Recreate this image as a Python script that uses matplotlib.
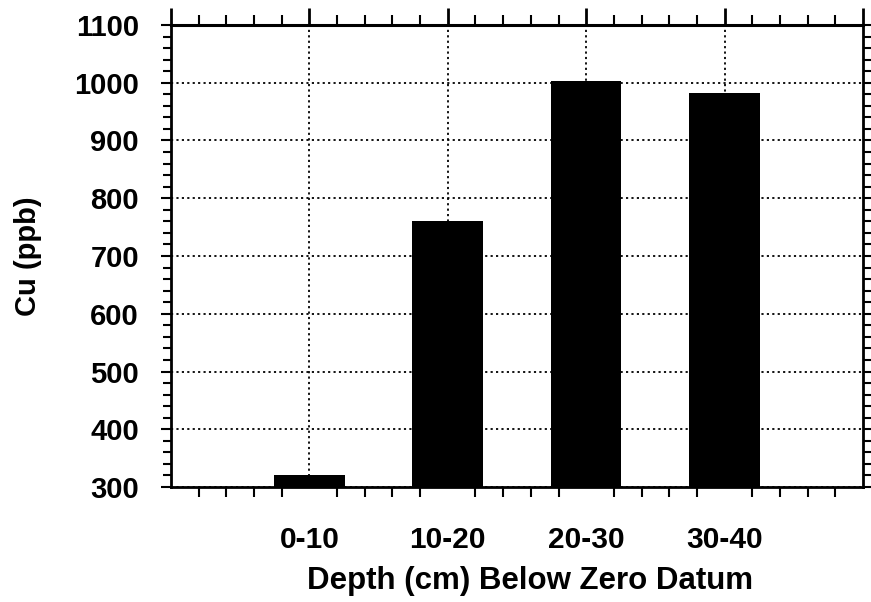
import numpy as np
import matplotlib
matplotlib.use("Agg")
import matplotlib.pyplot as plt
from matplotlib.ticker import MultipleLocator, FixedLocator, NullFormatter

plt.rcParams['font.family'] = ['Liberation Sans', 'DejaVu Sans']
plt.rcParams['font.weight'] = 'bold'

# Cu concentration by depth interval
depths = ['0-10', '10-20', '20-30', '30-40']
cu_ppb = [320, 760, 1003, 982]

fig = plt.figure(figsize=(8.71, 6.02), dpi=100)
ax = fig.add_axes([0.1963, 0.191, 0.7945, 0.7675])

x = np.arange(1, len(depths) + 1)
ax.bar(x, np.array(cu_ppb) - 300, width=0.51, bottom=300, color='black',
       zorder=3)

ax.set_xlim(0, 5)
ax.set_ylim(300, 1100)

# x axis: labels at category centres, small ticks in between
ax.set_xticks(x)
ax.set_xticklabels(depths)
minor_x = [v for v in np.round(np.arange(0.2, 5.0, 0.2), 1) if v % 1 != 0]
ax.xaxis.set_minor_locator(FixedLocator(minor_x))
ax.tick_params(axis='x', which='major', length=0, pad=28, labelsize=21.5)
ax.tick_params(axis='x', which='minor', direction='out', length=7.5,
               width=1.5, top=False, bottom=True)

# top edge gets its own longer ticks at the integer positions
top = ax.secondary_xaxis('top')
top.set_xticks(np.arange(0, 6))
top.xaxis.set_minor_locator(MultipleLocator(0.2))
top.xaxis.set_major_formatter(NullFormatter())
top.tick_params(which='major', direction='out', length=12.5, width=2)
top.tick_params(which='minor', direction='out', length=7.5, width=1.5)
top.spines['top'].set_linewidth(2.2)

# y axis ticks on both sides
ax.yaxis.set_major_locator(MultipleLocator(100))
ax.yaxis.set_minor_locator(MultipleLocator(20))
ax.tick_params(axis='y', which='both', direction='out', left=True,
               right=True, width=1.5)
ax.tick_params(axis='y', which='major', length=7, pad=16, labelsize=21)
ax.tick_params(axis='y', which='minor', length=6)

for s in ax.spines.values():
    s.set_linewidth(2)

ax.grid(True, which='major', color='black', linestyle=(0, (1.2, 1.8)),
        linewidth=1.3, zorder=1)
ax.set_axisbelow(True)

ax.set_ylabel('Cu (ppb)', fontsize=21, fontweight='bold')
ax.yaxis.set_label_coords(-0.186, 0.5)
ax.set_xlabel('Depth (cm) Below Zero Datum', fontsize=22.5, fontweight='bold')
ax.xaxis.set_label_coords(0.519, -0.17)

fig.savefig('out.png', dpi=100)
